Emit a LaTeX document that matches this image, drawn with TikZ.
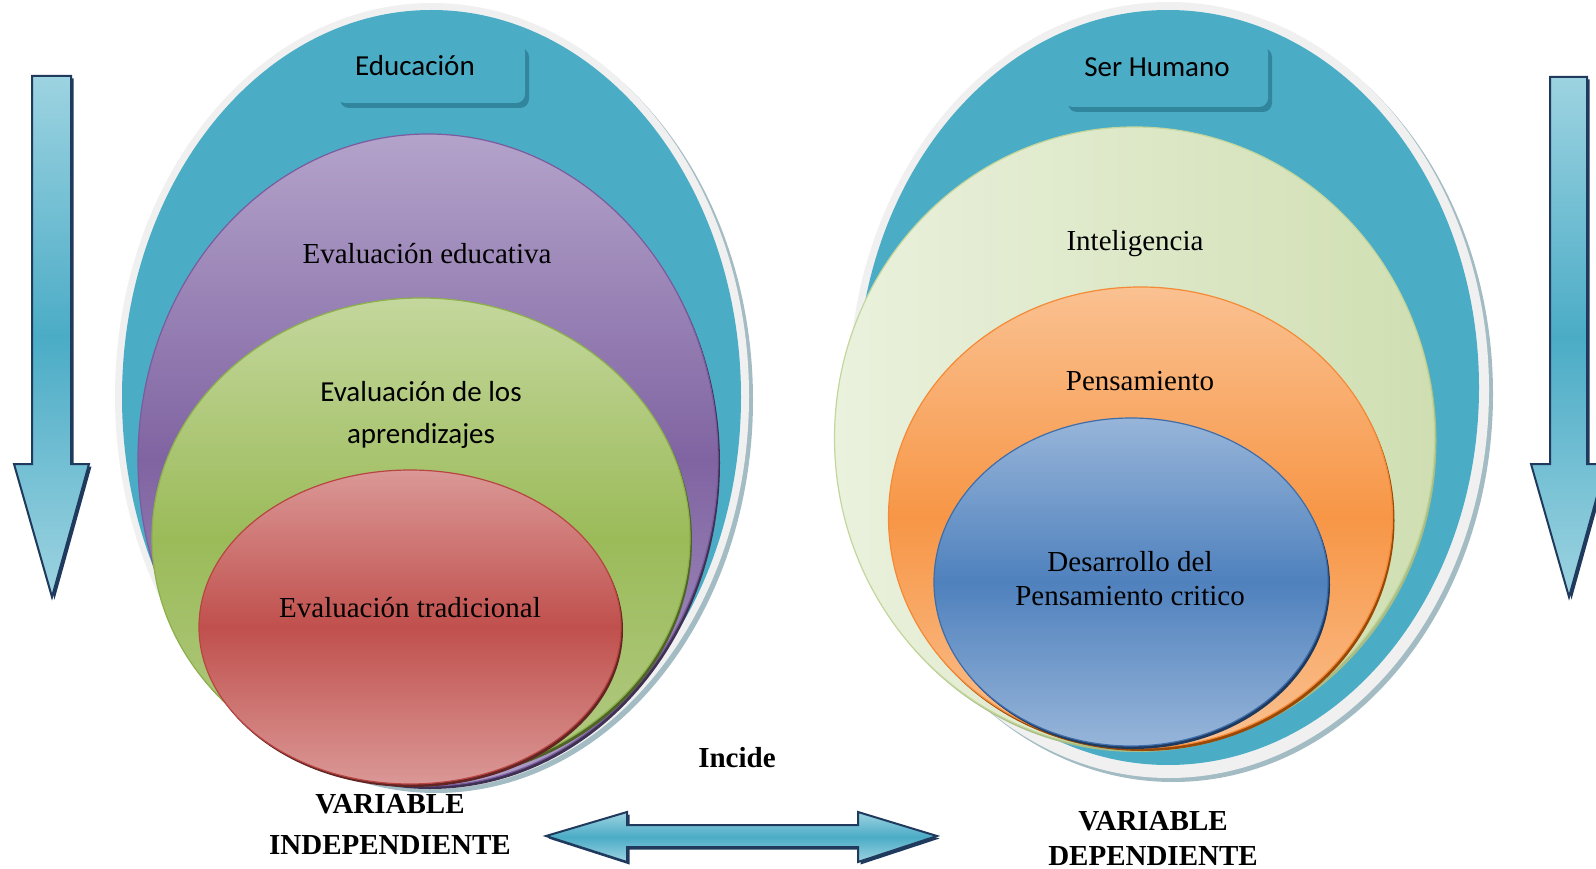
\documentclass[tikz,border=0pt]{standalone}
\usepackage{fontspec}
\setmainfont{Liberation Serif}
\newfontfamily\calibri{Carlito}
\usepackage{xcolor}
\usepackage{tikz}

\definecolor{aqua}{HTML}{4BACC6}
\definecolor{aquadark}{HTML}{31859C}
\definecolor{aqualight}{HTML}{9DD3E1}
\definecolor{arrowline}{HTML}{203A5E}
\definecolor{rimgray}{HTML}{F0F0F0}
\definecolor{rimblue}{HTML}{A3BCC4}

\definecolor{purptop}{HTML}{B3A3CA}
\definecolor{purpmid}{HTML}{8064A2}
\definecolor{purpbottom}{HTML}{AC9CC6}
\definecolor{purpline}{HTML}{7A5C9E}
\definecolor{purpshadow}{HTML}{3F3151}

\definecolor{greentop}{HTML}{C4D79D}
\definecolor{greenmid}{HTML}{9BBB59}
\definecolor{greenbottom}{HTML}{B3CB86}
\definecolor{greenline}{HTML}{8CB04A}
\definecolor{greenshadow}{HTML}{4F6228}

\definecolor{redtop}{HTML}{DA9896}
\definecolor{redmid}{HTML}{C0504D}
\definecolor{redbottom}{HTML}{DA9896}
\definecolor{redline}{HTML}{B84542}
\definecolor{redshadow}{HTML}{632523}

\definecolor{limeleft}{HTML}{EAF1DD}
\definecolor{limeright}{HTML}{D0DFB2}
\definecolor{limeline}{HTML}{C3D69B}
\definecolor{limeshadow}{HTML}{A9BE86}

\definecolor{orangetop}{HTML}{FAC191}
\definecolor{orangemid}{HTML}{F79646}
\definecolor{orangebottom}{HTML}{FAC191}
\definecolor{orangeline}{HTML}{F58A36}
\definecolor{orangeshadow}{HTML}{984807}

\definecolor{bluetop}{HTML}{97B5D9}
\definecolor{bluemid}{HTML}{4F81BD}
\definecolor{bluebottom}{HTML}{97B5D9}
\definecolor{blueline}{HTML}{3E6DAA}
\definecolor{blueshadow}{HTML}{1F3A5F}

\tikzset{
  serif/.style={font=\fontsize{29}{#1}\selectfont, align=center},
  serif/.default=35,
  sans/.style={font=\calibri\fontsize{29}{#1}\selectfont, align=center},
  sans/.default=42,
  varlabel/.style={font=\bfseries\fontsize{29}{#1}\selectfont, align=center},
  varlabel/.default=35,
  bubble/.style={preaction={fill=#1shadow, transform canvas={shift={(2pt,-3pt)}}},
    draw=#1line, line width=1.2pt, top color=#1top, bottom color=#1bottom, middle color=#1mid},
  limebubble/.style={preaction={fill=limeshadow, transform canvas={shift={(2pt,-3pt)}}},
    draw=limeline, line width=1.2pt, left color=limeleft, right color=limeright},
  titlebox/.style={fill=aqua, rounded corners=9pt},
  titleshadow/.style={fill=aquadark, rounded corners=9pt},
  blockarrow/.style={preaction={fill=arrowline, transform canvas={shift={(2.5pt,-2.5pt)}}},
    draw=arrowline, line width=2pt, line join=miter,
    top color=aqualight, bottom color=aqualight, middle color=aqua},
}

\begin{document}
\begin{tikzpicture}[x=1pt, y=-1pt]
    \useasboundingbox (0,0) rectangle (1596,869);

    % Educacion
    \fill[rimblue] (436,400) ellipse (317 and 393);
    \fill[rimgray] (432,396) ellipse (317 and 393);
    \fill[aqua] (431.5,397) ellipse (309.5 and 387);
    \fill[titleshadow] (340,48) rectangle (529,108);
    \fill[titlebox] (336,43) rectangle (525,103);
    \node[sans] (educacion) at (415,66) {Educación};

    \draw[bubble=purp] (428,460) ellipse (290 and 326);
    \node[serif] (evaleduc) at (427,254) {Evaluación educativa};

    \draw[bubble=green] (421,538) ellipse (269 and 240);
    \node[sans] (evalaprend) at (421,415) {Evaluación de los\\aprendizajes};

    \draw[bubble=red] (410,627) ellipse (211 and 157);
    \node[serif] (evaltrad) at (410,608) {Evaluación tradicional};

    % Ser Humano
    \fill[rimblue] (1173,394) ellipse (320 and 388);
    \fill[rimgray] (1169,390) ellipse (320 and 388);
    \fill[aqua] (1168,387.5) ellipse (311 and 377.5);
    \fill[titleshadow] (1068,48) rectangle (1272,112);
    \fill[titlebox] (1064,43) rectangle (1268,107);
    \node[sans] (serhumano) at (1157,67) {Ser Humano};

    \draw[limebubble] (1134.5,438) ellipse (300 and 311);
    \node[serif] (inteligencia) at (1135,244) {Inteligencia};

    \draw[bubble=orange] (1140.5,517.5) ellipse (252 and 230.5);
    \node[serif] (pensamiento) at (1140,381) {Pensamiento};

    \draw[bubble=blue] (1131,582) ellipse (197 and 164);
    \node[serif=34] (desarrollo) at (1130,579) {Desarrollo del\\Pensamiento critico};

    % arrows
    \draw[blockarrow] (32,76) -- (71,76) -- (71,464) -- (89,464) -- (52,597)
        -- (14,464) -- (32,464) -- cycle;
    \draw[blockarrow] (1550,77) -- (1587,77) -- (1587,464) -- (1606,464) -- (1569,597)
        -- (1531,464) -- (1550,464) -- cycle;
    \draw[blockarrow] (546,836) -- (627,812) -- (627,825) -- (858,825) -- (858,812)
        -- (937,836) -- (858,862) -- (858,847) -- (627,847) -- (627,862) -- cycle;

    \node[varlabel] (incide) at (737,758) {Incide};
    \node[varlabel=41] (varindep) at (390,824) {VARIABLE\\INDEPENDIENTE};
    \node[varlabel] (vardep) at (1153,838.5) {VARIABLE\\DEPENDIENTE};
\end{tikzpicture}
\end{document}
